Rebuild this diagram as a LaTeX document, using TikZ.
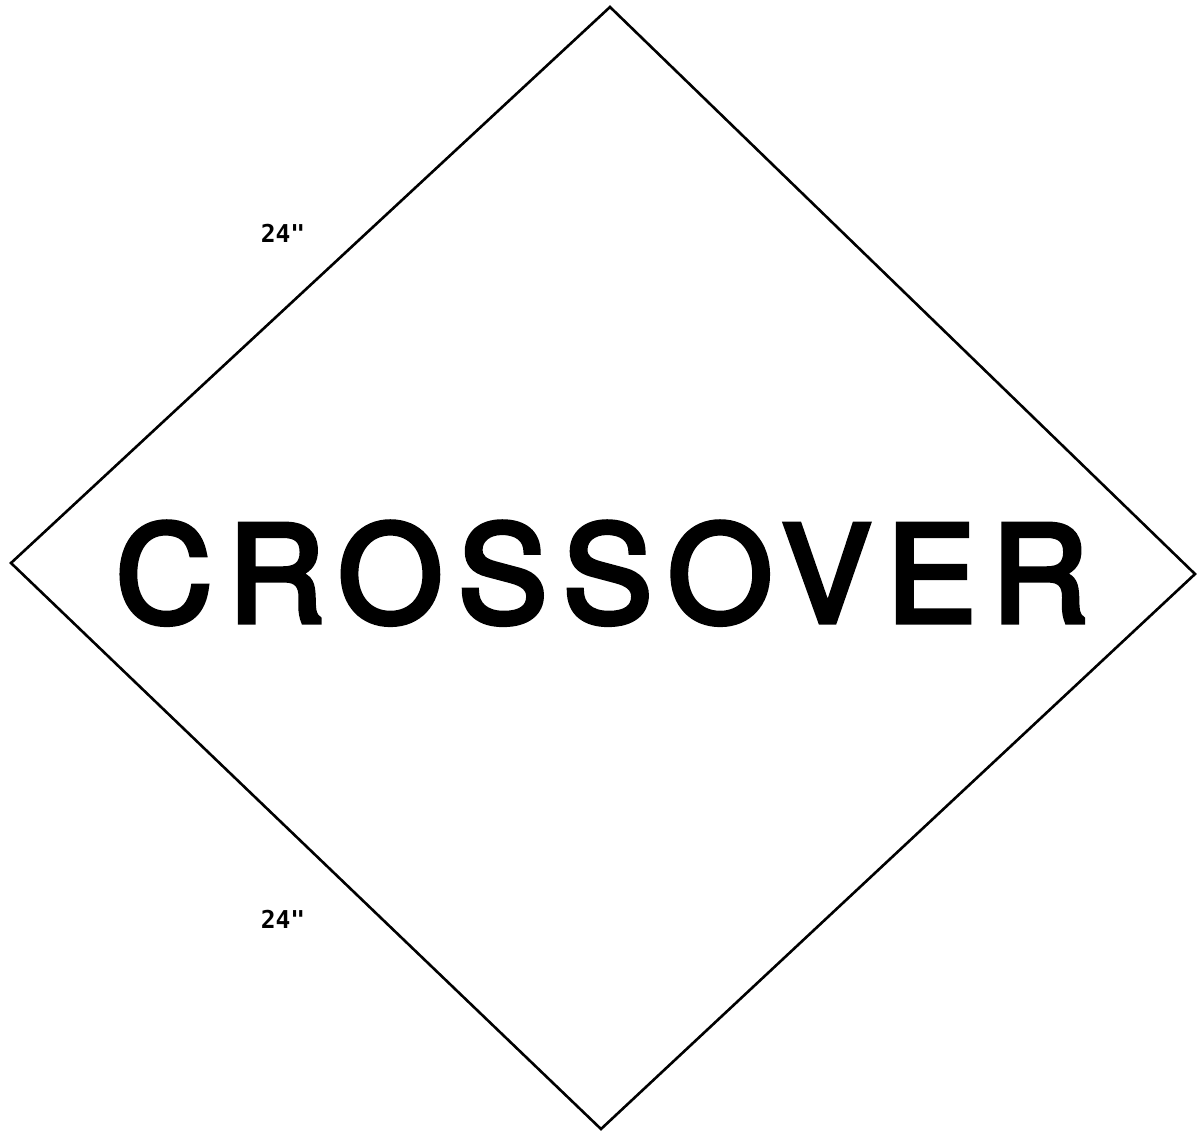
\documentclass[tikz,border=0pt]{standalone}
\usepackage{fontspec}
\setsansfont{TeX Gyre Heros}
\newfontfamily\dimfont{DejaVu Sans Mono}
\begin{document}
\begin{tikzpicture}[x=0.5pt, y=-0.5pt, line join=miter,
    signtext/.style={font=\sffamily\fontsize{67}{67}\selectfont\addfontfeature{LetterSpace=11.6,FakeBold=4}, inner sep=0pt, anchor=base},
    dimtext/.style={font=\dimfont\bfseries\fontsize{12.3}{12.3}\selectfont, inner sep=0pt, anchor=base}]
        \useasboundingbox (0,0) rectangle (1197,1132);
        \coordinate (top) at (610,7);
        \coordinate (right) at (1195,574);
        \coordinate (bottom) at (601,1129);
        \coordinate (left) at (11,563);
        \draw[line width=1.3pt] (top) -- (right) -- (bottom) -- (left) -- cycle;
        \node[signtext] (word) at (602,622) {CROSSOVER};
        \node[dimtext] (upper) at (283,242) {24"};
        \node[dimtext] (lower) at (283,928) {24"};
      \end{tikzpicture}
\end{document}
